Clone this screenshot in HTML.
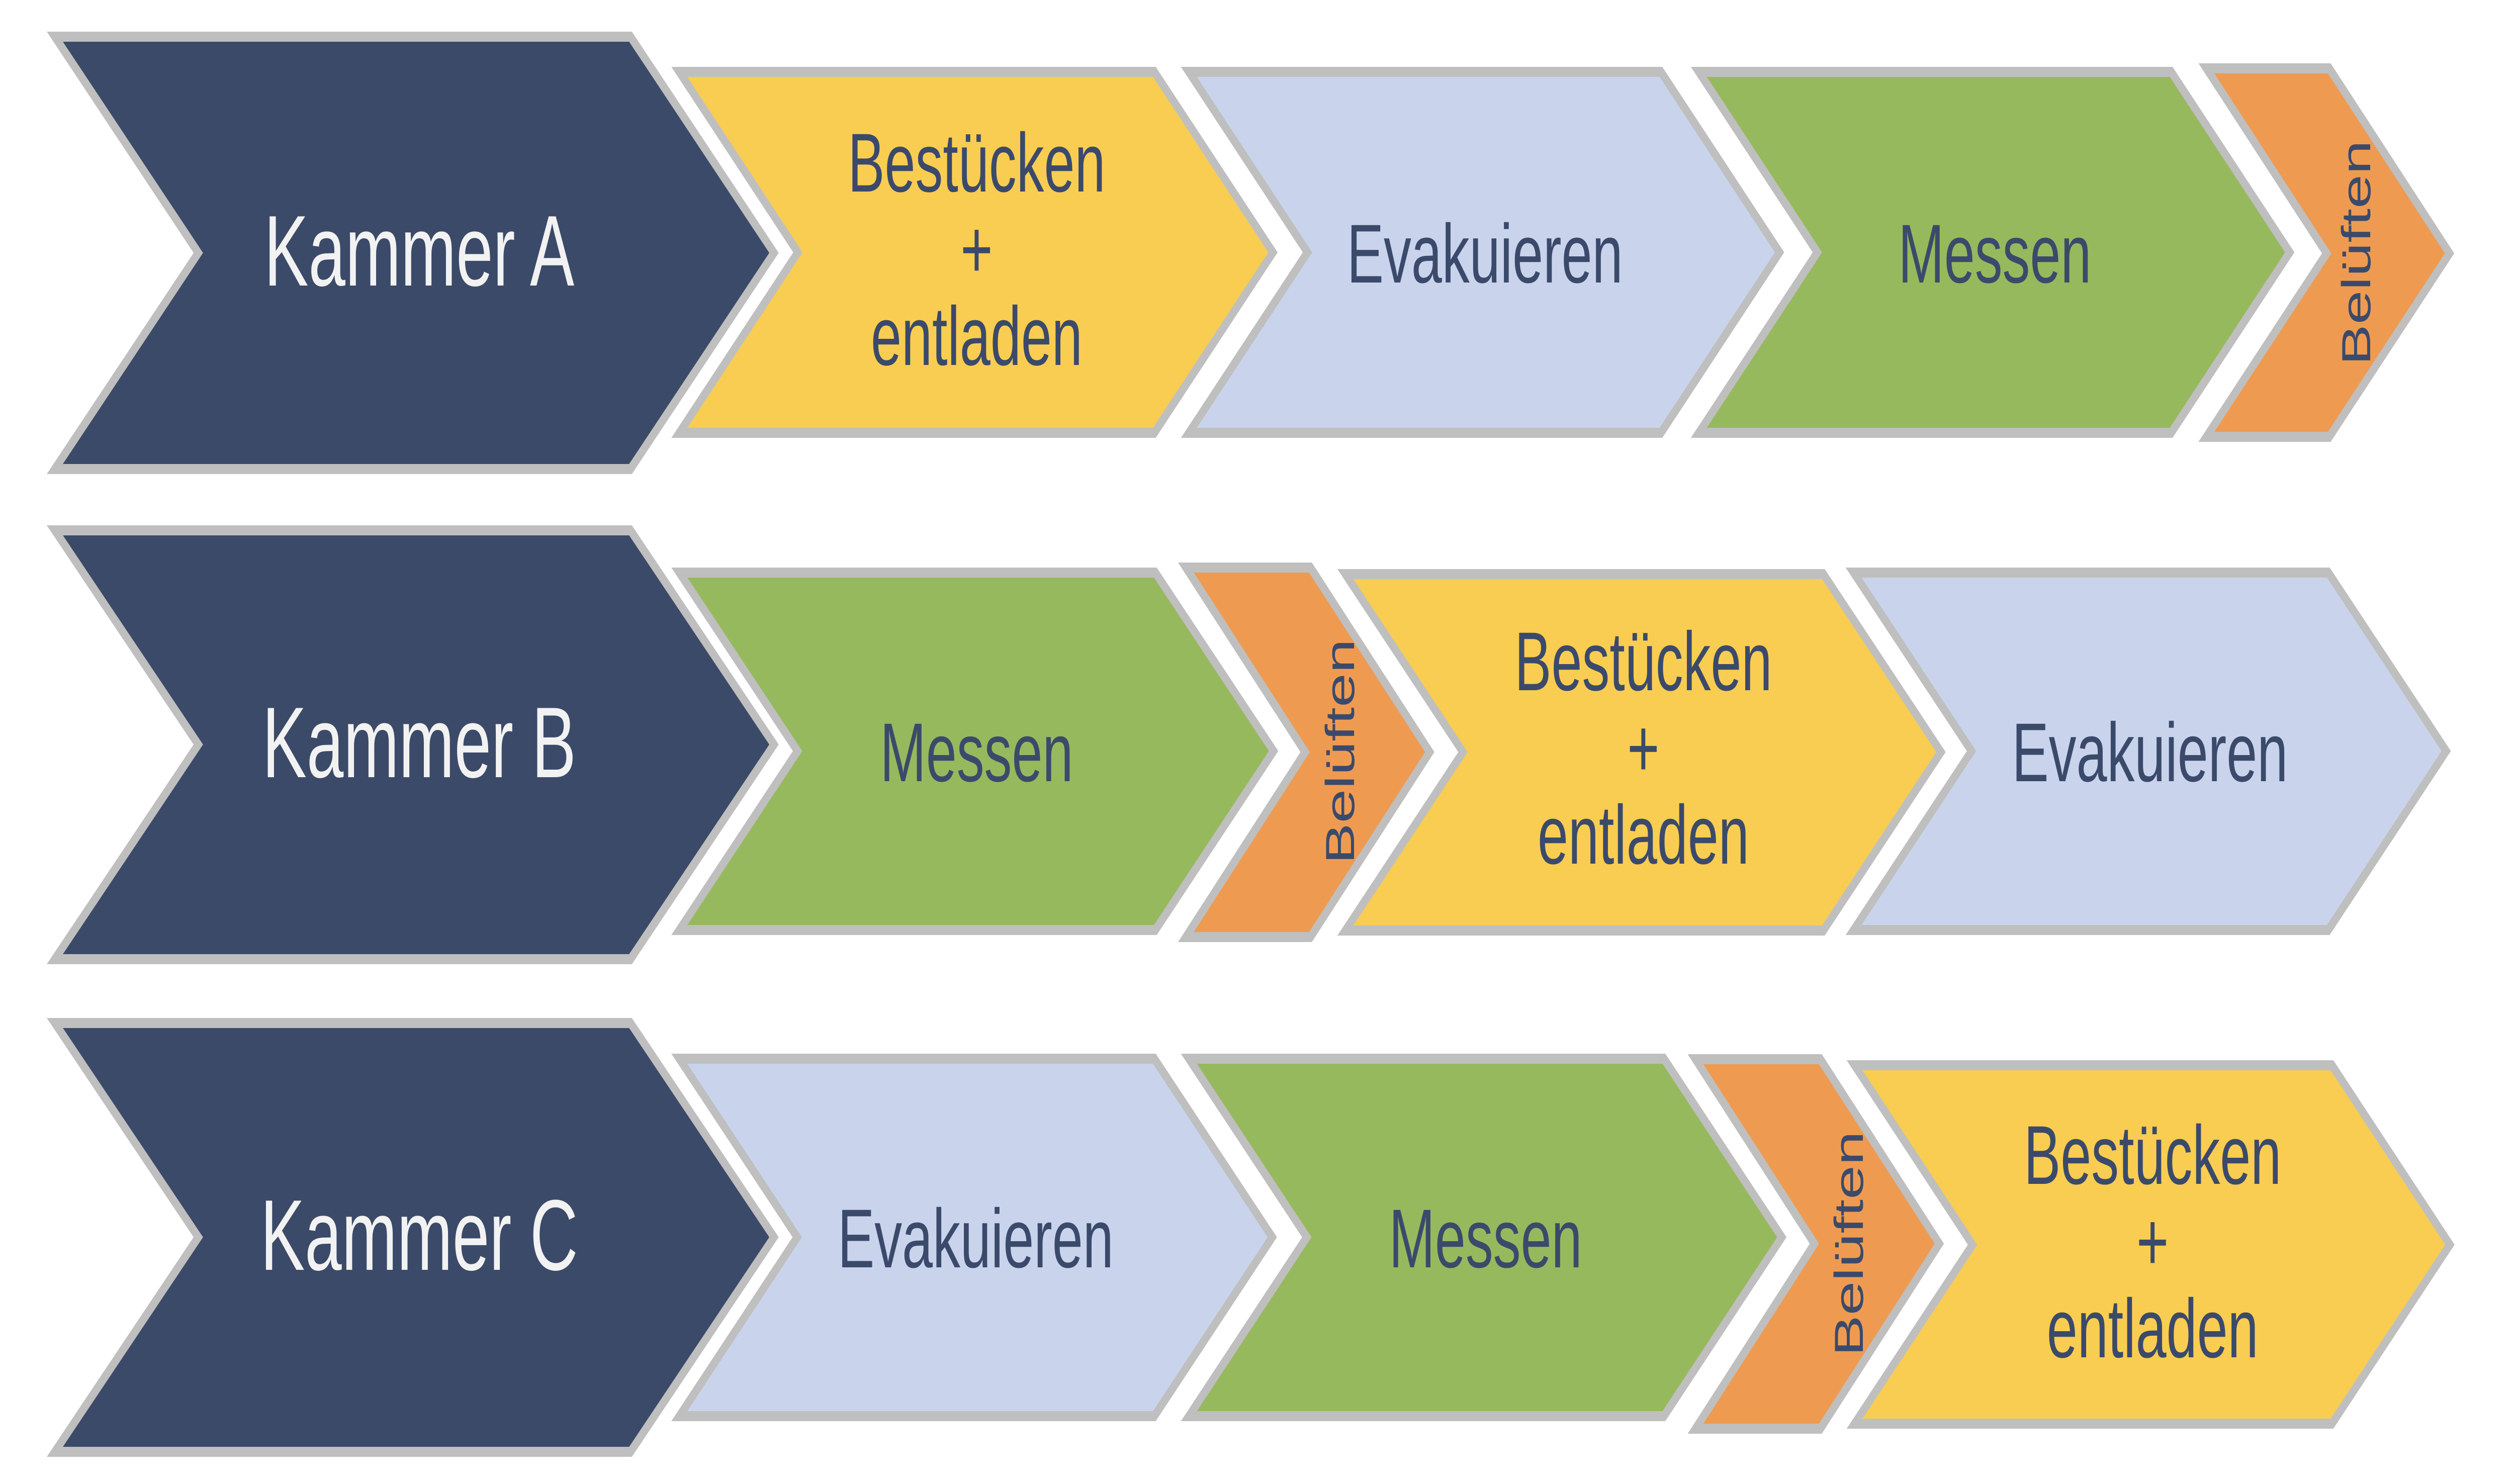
<!DOCTYPE html>
<html><head><meta charset="utf-8"><style>
html,body{margin:0;padding:0;background:#fff;width:100%;height:100%;overflow:hidden;}
svg{display:block;width:100vw;height:100vh;}
text{font-family:"Liberation Sans",sans-serif;}
</style></head><body>
<svg viewBox="0 0 7568 2952" preserveAspectRatio="none" xmlns="http://www.w3.org/2000/svg">
<g stroke="#bfbfbf" stroke-width="20" stroke-linejoin="miter">
<polygon fill="#3b4a68" points="165,73 1898,73 2330,503 1898,933 165,933 597,503"/>
<polygon fill="#3b4a68" points="165,1055 1898,1055 2330,1481 1898,1908 165,1908 597,1481"/>
<polygon fill="#3b4a68" points="165,2035 1898,2035 2330,2461 1898,2888 165,2888 597,2461"/>
<polygon fill="#f9cd51" points="2045,143 3475,143 3832,502 3475,861 2045,861 2402,502"/>
<polygon fill="#c9d4ec" points="3579,143 5000,143 5357,502 5000,861 3579,861 3936,502"/>
<polygon fill="#97b95e" points="5114,143 6536,143 6893,502 6536,861 5114,861 5471,502"/>
<polygon fill="#ee9b51" points="6642,136 7012,136 7374,504 7012,869 6642,869 7004,504"/>
<polygon fill="#97b95e" points="2045,1139 3478,1139 3834,1494 3478,1850 2045,1850 2401,1494"/>
<polygon fill="#ee9b51" points="3570,1129 3945,1129 4304,1496 3945,1864 3570,1864 3929,1496"/>
<polygon fill="#f9cd51" points="4050,1142 5489,1142 5843,1496 5489,1851 4050,1851 4404,1496"/>
<polygon fill="#c9d4ec" points="5580,1139 7009,1139 7364,1494 7009,1850 5580,1850 5935,1494"/>
<polygon fill="#c9d4ec" points="2045,2106 3475,2106 3830,2461 3475,2817 2045,2817 2400,2461"/>
<polygon fill="#97b95e" points="3579,2106 5009,2106 5364,2461 5009,2817 3579,2817 3934,2461"/>
<polygon fill="#ee9b51" points="5104,2107 5480,2107 5838,2474 5480,2842 5104,2842 5462,2474"/>
<polygon fill="#f9cd51" points="5583,2119 7020,2119 7375,2476 7020,2832 5583,2832 5938,2476"/>
</g>
<g fill="#f2f2f2" font-size="200" text-anchor="middle">
<text x="1262" y="568">Kammer A</text>
<text x="1262" y="1546">Kammer B</text>
<text x="1262" y="2526">Kammer C</text>
</g>
<g fill="#3b4a6b" font-size="166" text-anchor="middle">
<text x="2940" y="381">Bestücken</text>
<text x="2940" y="553">+</text>
<text x="2940" y="726">entladen</text>
<text x="4470" y="562">Evakuieren</text>
<text x="6005" y="562">Messen</text>
<text x="2940" y="1554">Messen</text>
<text x="4947" y="1373">Bestücken</text>
<text x="4947" y="1545">+</text>
<text x="4947" y="1718">entladen</text>
<text x="6472" y="1554">Evakuieren</text>
<text x="2937" y="2521">Evakuieren</text>
<text x="4472" y="2521">Messen</text>
<text x="6480" y="2355">Bestücken</text>
<text x="6480" y="2527">+</text>
<text x="6480" y="2700">entladen</text>
</g>
<g fill="#3b4a6b" font-size="122" text-anchor="middle">
<text transform="translate(7091,503) rotate(-90)" y="44">Belüften</text>
<text transform="translate(4032,1495) rotate(-90)" y="44">Belüften</text>
<text transform="translate(5564,2474) rotate(-90)" y="44">Belüften</text>
</g>
</svg>
</body></html>
